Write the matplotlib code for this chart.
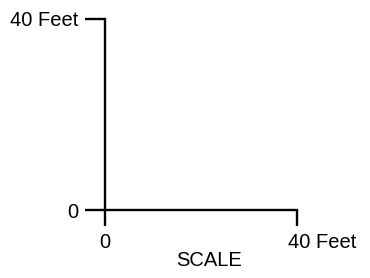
import matplotlib.pyplot as plt
import matplotlib.transforms as mtransforms

plt.rcParams['font.family'] = ['Liberation Sans', 'DejaVu Sans']

x_ticks = [0, 40]
x_labels = ["0", "40 Feet"]
y_ticks = [0, 40]
y_labels = ["0", "40 Feet"]
axis_label = "SCALE"

fig = plt.figure(figsize=(3.7, 2.78), dpi=100)
ax = fig.add_axes([105/370, 1 - 210/278, 192/370, 191/278])
ax.set_xlim(x_ticks[0], x_ticks[-1])
ax.set_ylim(y_ticks[0], y_ticks[-1])

for s in ["top", "right"]:
    ax.spines[s].set_visible(False)
for s in ["left", "bottom"]:
    ax.spines[s].set_linewidth(1.7)
    ax.spines[s].set_capstyle("projecting")

ax.set_xticks(x_ticks)
ax.set_xticklabels(x_labels, fontsize=14.5)
ax.set_yticks(y_ticks)
ax.set_yticklabels(y_labels, fontsize=14.5)
ax.tick_params(axis="y", direction="out", length=14.5, width=1.7, pad=5)
ax.tick_params(axis="x", direction="out", length=11.5, width=1.7, pad=5)

# nudge the right-hand "40 Feet" label like the original
lab = ax.get_xticklabels()[1]
lab.set_transform(lab.get_transform() + mtransforms.ScaledTranslation(25/100, 0, fig.dpi_scale_trans))

ax.set_xlabel(axis_label, fontsize=14.5)
ax.xaxis.set_label_coords(0.54, -0.215)

fig.savefig("out.png", dpi=100)
